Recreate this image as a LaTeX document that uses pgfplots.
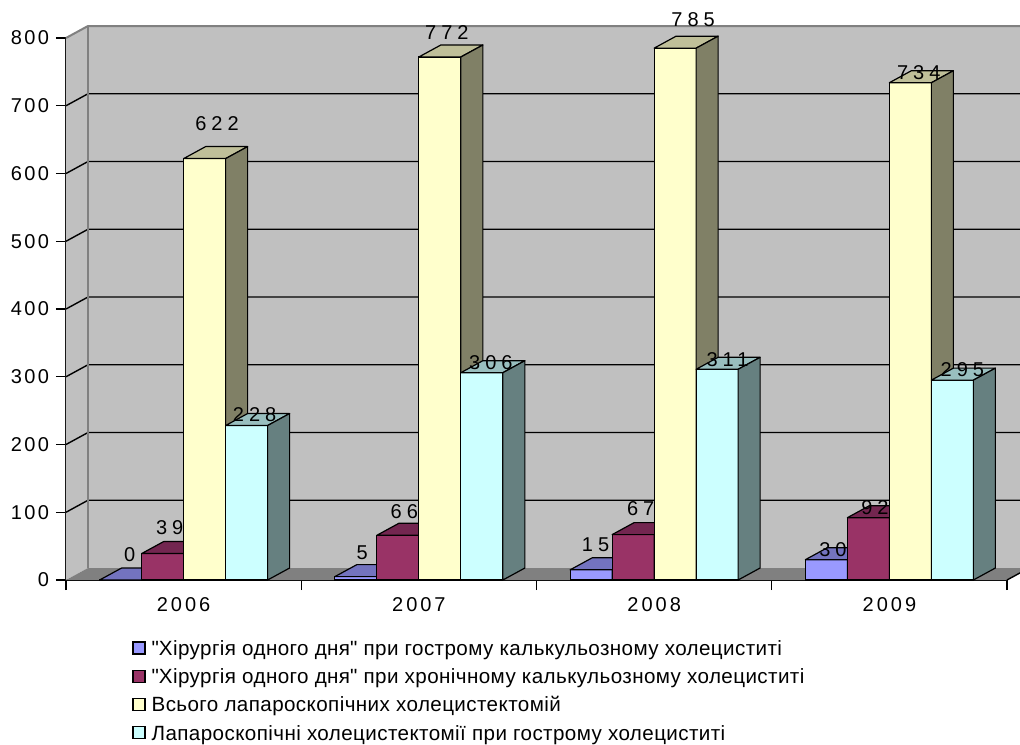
\documentclass[border=0pt]{standalone}
\usepackage{fontspec}
\setmainfont{Liberation Sans}
\newfontfamily\tickfont[LetterSpace=12]{Liberation Sans}
\newfontfamily\yearfont[LetterSpace=15]{Liberation Sans}
\newfontfamily\lblfont[LetterSpace=25]{Liberation Sans}
\newfontfamily\legfont[LetterSpace=2]{Liberation Sans}
\usepackage{pgfplots}
\usepackage{pgfplotstable}
\pgfplotsset{compat=1.18}

% colours: front, top and side faces of the boxes
\definecolor{blueF}{HTML}{9999FF}\definecolor{blueT}{HTML}{7373BF}\definecolor{blueS}{HTML}{4D4D80}
\definecolor{redF}{HTML}{993366}\definecolor{redT}{HTML}{732650}\definecolor{redS}{HTML}{4D1A33}
\definecolor{yelF}{HTML}{FFFFCC}\definecolor{yelT}{HTML}{BFBF99}\definecolor{yelS}{HTML}{808066}
\definecolor{cyaF}{HTML}{CCFFFF}\definecolor{cyaT}{HTML}{99BFBF}\definecolor{cyaS}{HTML}{668080}
\definecolor{wallgray}{HTML}{C0C0C0}
\definecolor{floorgray}{HTML}{808080}
\definecolor{edgegray}{HTML}{808080}

% x = year index, y = count, lx/ly = offset of the value label (pt)
\pgfplotstableread{
x y lx ly
0 0 4.5 12.5
1 5 3.2 11.8
2 15 2.2 12.6
3 30 3.3 4.9
}\acuteTab
\pgfplotstableread{
x y lx ly
0 39 3.5 12.8
1 66 3.2 11.6
2 67 3.8 13.1
3 92 3.3 4.9
}\chronicTab
\pgfplotstableread{
x y lx ly
0 622 6.2 17.3
1 772 3.5 12.0
2 785 9.0 14.2
3 734 4.2 5.1
}\totalTab
\pgfplotstableread{
x y lx ly
0 228 4.0 5.5
1 306 4.5 5.0
2 311 5.2 4.9
3 295 5.0 5.3
}\lapTab

\pgfdeclareplotmark{nomark}{}

\pgfplotsset{
  % front face of a box
  frontbar/.style n args={2}{
    ybar, bar width=21pt, bar shift=#1,
    fill=#2, draw=black, line width=0.6pt,
    legend image code/.code={\draw[fill=#2, draw=black, line width=0.6pt] (0pt,-2pt) rectangle (6pt,4pt);},
  },
  % whole box (front, top and right faces), drawn from the bar's value
  boxfaces/.style n args={4}{
    forget plot, only marks, scatter, mark=nomark,
    point meta=rawy,
    visualization depends on={rawy \as \barval},
    scatter/@pre marker code/.code={%
      \pgfmathsetmacro\barhgt{\barval*0.33875}%
      \filldraw[fill=#2, draw=black, line width=0.6pt, line join=round]
        ({#1-10.5pt},0pt) rectangle ({#1+10.5pt},{-\barhgt pt});
      \filldraw[fill=#3, draw=black, line width=0.6pt, line join=round]
        ({#1-10.5pt},0pt) -- ({#1+10.5pt},0pt) -- ({#1+21.5pt},6pt) -- ({#1+0.5pt},6pt) -- cycle;
      \filldraw[fill=#4, draw=black, line width=0.6pt, line join=round]
        ({#1+10.5pt},0pt) -- ({#1+21.5pt},6pt) -- ({#1+21.5pt},{6pt-\barhgt pt}) -- ({#1+10.5pt},{-\barhgt pt}) -- cycle;
    },
    scatter/@post marker code/.code={},
  },
  % value labels above the boxes
  valuelabels/.style={
    forget plot, draw=none,
    point meta=rawy,
    visualization depends on={\thisrow{lx} \as \lblx},
    visualization depends on={\thisrow{ly} \as \lbly},
    nodes near coords={\lblfont\pgfmathprintnumber{\pgfplotspointmeta}},
    every node near coord/.append style={anchor=center, inner sep=0pt, text=black,
      xshift={#1+\lblx pt}, yshift={\lbly pt}},
  },
}

\begin{document}
\begin{tikzpicture}
\begin{axis}[
  x=117.625pt, y=0.33875pt,
  xmin=-0.5, xmax=3.5, ymin=0, ymax=800,
  clip=false,
  axis x line*=bottom, axis y line*=left,
  axis line style={black, line width=0.7pt},
  ytick={0,100,...,800},
  xtick={-0.5,0.5,1.5,2.5,3.5},
  xticklabels={2006,2007,2008,2009},
  x tick label as interval,
  tick align=outside,
  major tick length=5pt,
  tick style={black, line width=0.7pt},
  /pgf/number format/assume math mode=true,
  yticklabel style={font=\tickfont},
  xticklabel style={font=\yearfont},
  legend cell align=left,
  legend style={at={(0,0)}, anchor=north west, xshift=33pt, yshift=-30pt,
    draw=none, fill=none, inner sep=0pt, font=\legfont\fontsize{10.3}{12}\selectfont,
    row sep=4.5pt, column sep=3pt,
    nodes={inner sep=0pt, text height=7.5pt, text depth=2.1pt}},
]
\coordinate (O) at (axis cs:-0.5,0);
% side wall and back wall
\fill[wallgray] (axis cs:-0.5,0) -- (axis cs:-0.5,800) -- ++(11pt,6pt) -- ([shift={(11pt,6pt)}]axis cs:-0.5,0) -- cycle;
\fill[wallgray] ([shift={(11pt,6pt)}]axis cs:-0.5,0) rectangle ([shift={(11pt,6pt)}]axis cs:3.5,800);
% grid lines on the walls
\pgfplotsinvokeforeach{100,200,...,700}{
  \draw[black, line width=0.7pt] (axis cs:-0.5,#1) -- ++(11pt,6pt) -- ([shift={(11pt,6pt)}]axis cs:3.5,#1);
}
% wall edges
\draw[edgegray, line width=1pt] (axis cs:-0.5,800) -- ++(11pt,6pt) -- ([shift={(11pt,6pt)}]axis cs:3.5,800);
\draw[edgegray, line width=1pt] ([shift={(11pt,6pt)}]axis cs:-0.5,0) -- ([shift={(11pt,6pt)}]axis cs:-0.5,800);
% floor
\fill[floorgray] (axis cs:-0.5,0) -- (axis cs:3.5,0) -- ++(11pt,6pt) -- ([shift={(11pt,6pt)}]axis cs:-0.5,0) -- cycle;
\draw[black, line width=0.7pt] (axis cs:3.5,0) -- ++(11pt,6pt);

% bars
\addplot[frontbar={-31.5pt}{blueF}] table[x=x,y=y] {\acuteTab};
\addlegendentry{\textquotedbl Хірургія одного дня\textquotedbl{} при гострому калькульозному холециститі}
\addplot[frontbar={-10.5pt}{redF}] table[x=x,y=y] {\chronicTab};
\addlegendentry{\textquotedbl Хірургія одного дня\textquotedbl{} при хронічному калькульозному холециститі}
\addplot[frontbar={10.5pt}{yelF}] table[x=x,y=y] {\totalTab};
\addlegendentry{Всього лапароскопічних холецистектомій}
\addplot[frontbar={31.5pt}{cyaF}] table[x=x,y=y] {\lapTab};
\addlegendentry{Лапароскопічні холецистектомії при гострому холециститі}

% boxes, left to right within each year
\addplot[boxfaces={-31.5pt}{blueF}{blueT}{blueS}] table[x=x,y=y] {\acuteTab};
\addplot[boxfaces={-10.5pt}{redF}{redT}{redS}] table[x=x,y=y] {\chronicTab};
\addplot[boxfaces={10.5pt}{yelF}{yelT}{yelS}] table[x=x,y=y] {\totalTab};
\addplot[boxfaces={31.5pt}{cyaF}{cyaT}{cyaS}] table[x=x,y=y] {\lapTab};

\addplot[valuelabels={-31.5pt}] table[x=x,y=y] {\acuteTab};
\addplot[valuelabels={-10.5pt}] table[x=x,y=y] {\chronicTab};
\addplot[valuelabels={10.5pt}] table[x=x,y=y] {\totalTab};
\addplot[valuelabels={31.5pt}] table[x=x,y=y] {\lapTab};
\end{axis}
\pgfresetboundingbox
\path[use as bounding box] ([shift={(-33pt,-82pt)}]O) rectangle ([shift={(477pt,290pt)}]O);
\end{tikzpicture}
\end{document}
